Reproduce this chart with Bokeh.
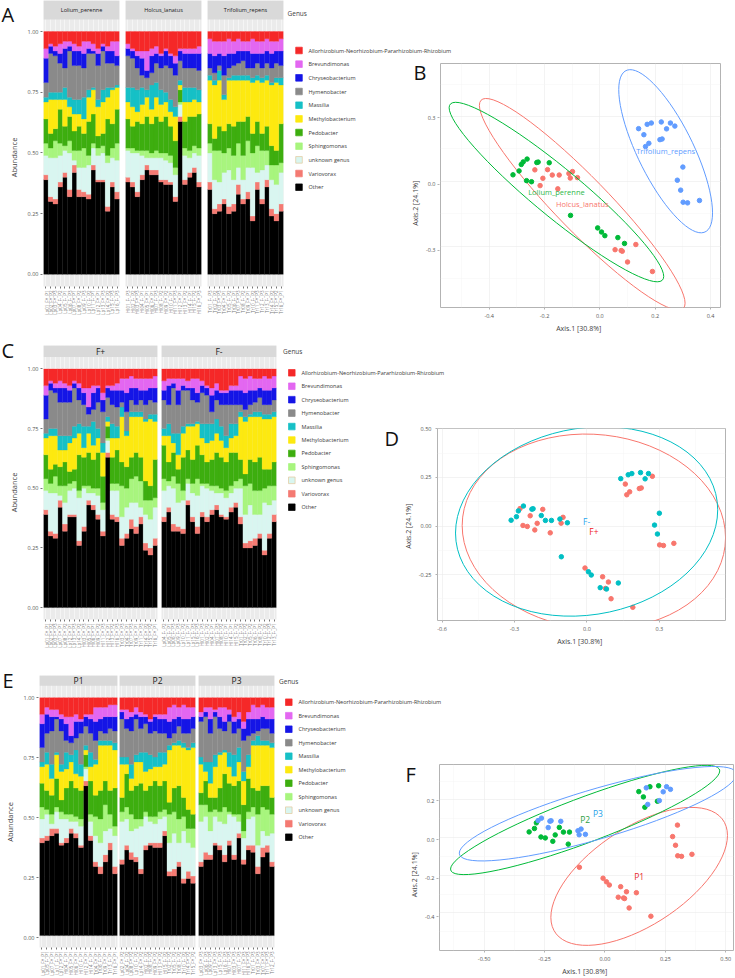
import numpy as np
from bokeh.plotting import figure
from bokeh.layouts import row, column
from bokeh.models import (ColumnDataSource, FactorRange, Range1d, FixedTicker,
                          PrintfTickFormatter, Label, BoxAnnotation, Grid)
from bokeh.core.properties import value
from bokeh.embed import file_html
from bokeh.resources import INLINE

FONT = "Open Sans"
TEXT_DARK = "#444444"
TICK_TEXT = "#555555"
LETTER_PX = "20px"

# ---------------------------------------------------------------- genera
genus_keys = ["allorhizobium", "brevundimonas", "chryseobacterium", "hymenobacter",
              "massilia", "methylobacterium", "pedobacter", "sphingomonas",
              "unknown_genus", "variovorax", "other"]
genus_labels = ["Allorhizobium-Neorhizobium-Pararhizobium-Rhizobium", "Brevundimonas",
                "Chryseobacterium", "Hymenobacter", "Massilia", "Methylobacterium",
                "Pedobacter", "Sphingomonas", "unknown genus", "Variovorax", "Other"]
genus_colors = ["#F52828", "#E367F1", "#1515E6", "#8A8A8A", "#16C0C6", "#FDE910",
                "#3DAE0F", "#A8F57E", "#D9F6F0", "#F47A72", "#000000"]

# ---------------------------------------------------------------- relative abundance
# 48 samples: 16 Lolium_perenne, 16 Holcus_lanatus, 16 Trifolium_repens
allorhizobium = [.07, .05, .06, .05, .04, .04, .05, .06, .04, .04, .05, .07, .05, .06, .04, .04,
                 .05, .07, .08, .08, .08, .07, .06, .09, .07, .09, .10, .07, .07, .07, .07, .06,
                 .03, .04, .04, .04, .03, .04, .03, .04, .04, .03, .04, .04, .03, .04, .04, .03]
brevundimonas = [.04, .01, .02, .04, .03, .02, .03, .02, .05, .03, .03, .02, .01, .02, .04, .06,
                 .02, .01, .02, .03, .08, .03, .03, .01, .01, .01, .03, .01, .02, .02, .02, .03,
                 .06, .06, .05, .06, .06, .05, .05, .04, .04, .06, .05, .05, .05, .05, .04, .05]
chryseobacterium = [.10, .03, .02, .04, .08, .02, .06, .06, .06, .02, .01, .05, .02, .05, .05, .04,
                    .03, .03, .05, .07, .03, .07, .04, .05, .06, .05, .05, .04, .06, .06, .06, .07,
                    .06, .07, .05, .08, .06, .05, .05, .04, .07, .06, .04, .06, .05, .06, .05, .06]
hymenobacter = [.06, .16, .15, .12, .08, .19, .14, .14, .12, .15, .14, .14, .16, .10, .10, .08,
                .13, .12, .09, .05, .05, .05, .08, .09, .11, .13, .13, .08, .08, .08, .08, .08,
                .03, .03, .02, .08, .04, .04, .05, .06, .03, .04, .05, .04, .05, .06, .06, .05]
massilia = [.02, .03, .03, .03, .05, .04, .06, .06, .09, .03, .01, .03, .05, .04, .01, .01,
            .06, .08, .09, .07, .03, .10, .06, .06, .04, .05, .04, .02, .06, .06, .05, .05,
            .02, .02, .04, .02, .01, .02, .02, .02, .02, .02, .02, .02, .02, .01, .02, .03]
methylobacterium = [.07, .14, .12, .04, .11, .04, .07, .05, .06, .10, .10, .12, .13, .09, .14, .09,
                    .07, .08, .04, .08, .08, .06, .08, .07, .06, .06, .10, .02, .08, .06, .07, .05,
                    .18, .22, .19, .13, .18, .19, .17, .17, .15, .21, .17, .21, .19, .25, .28, .16]
pedobacter = [.10, .06, .05, .14, .08, .10, .08, .10, .06, .14, .12, .05, .05, .15, .10, .14,
              .12, .09, .12, .11, .14, .12, .14, .13, .15, .12, .11, .05, .11, .14, .12, .14,
              .08, .05, .10, .09, .10, .12, .09, .14, .10, .08, .10, .07, .10, .08, .06, .16]
sphingomonas = [.05, .04, .07, .05, .02, .05, .04, .07, .08, .04, .02, .03, .03, .03, .04, .07,
                .01, .02, .01, .02, .03, .02, .03, .02, .03, .03, .03, .01, .03, .03, .03, .03,
                .04, .12, .13, .08, .09, .10, .10, .10, .11, .06, .11, .08, .06, .06, .08, .04]
unknown_genus = [.08, .16, .17, .11, .09, .15, .02, .09, .10, .12, .07, .10, .11, .18, .10, .13,
                 .11, .12, .16, .08, .03, .05, .05, .09, .08, .08, .09, .05, .10, .06, .06, .11,
                 .12, .12, .09, .11, .15, .10, .07, .08, .10, .20, .04, .12, .06, .12, .12, .13]
variovorax = [.02, .02, .02, .02, .02, .03, .03, .03, .02, .02, .02, .01, .01, .02, .02, .03,
              .02, .02, .02, .02, .02, .02, .02, .01, .02, .01, .02, .02, .02, .02, .02, .02,
              .03, .02, .03, .02, .03, .03, .04, .02, .03, .02, .03, .02, .03, .03, .03, .03]
other = [.39, .30, .29, .36, .40, .32, .42, .32, .32, .31, .43, .38, .38, .26, .36, .31,
         .38, .36, .32, .39, .43, .41, .41, .38, .37, .37, .30, .63, .37, .40, .42, .36,
         .35, .25, .26, .29, .25, .26, .33, .29, .31, .22, .35, .29, .36, .24, .22, .26]

host_names = ["Lolium_perenne", "Holcus_lanatus", "Trifolium_repens"]
host_codes = ["Lp", "Hl", "Tr"]
fungus = (["F+", "F+", "F+", "F-", "F-", "F-", "F+", "F+", "F-", "F-", "F-", "F+", "F+", "F+", "F-", "F-"] +
          ["F-", "F-", "F+", "F-", "F+", "F+", "F-", "F-", "F+", "F-", "F+", "F+", "F+", "F-", "F-", "F+"] +
          ["F-", "F-", "F+", "F+", "F-", "F-", "F+", "F-", "F+", "F-", "F+", "F-", "F-", "F+", "F+", "F+"])
phosphorus = (["P1", "P2", "P3", "P2", "P1", "P3", "P1", "P2", "P3", "P2", "P1", "P1", "P3", "P2", "P3", "P3"] +
              ["P3", "P2", "P3", "P1", "P1", "P1", "P3", "P2", "P2", "P1", "P3", "P1", "P2", "P1", "P2", "P3"] +
              ["P3", "P2", "P3", "P1", "P2", "P1", "P3", "P2", "P1", "P2", "P3", "P3", "P1", "P2", "P2", "P1"])

# ---------------------------------------------------------------- PCoA scores
pcoa_axis1 = [-0.314, -0.292, -0.284, -0.277, -0.263, -0.265, -0.247, -0.228, -0.223, -0.183,
              -0.106, -0.008, 0.006, 0.018, 0.065, 0.089,
              -0.235, -0.206, -0.216, -0.189, -0.172, -0.152, -0.147, -0.112, -0.107, -0.099,
              -0.081, 0.055, 0.077, 0.081, 0.100, 0.130, 0.190,
              0.140, 0.159, 0.171, 0.186, 0.177, 0.165, 0.222, 0.217, 0.225, 0.241, 0.255,
              0.271, 0.300, 0.280, 0.292, 0.301, 0.317, 0.360]
pcoa_axis2 = [0.030, 0.048, 0.078, 0.090, 0.103, 0.003, -0.002, 0.087, 0.089, 0.086,
              -0.158, -0.216, -0.235, -0.252, -0.261, -0.288,
              0.053, 0.014, -0.020, 0.054, 0.029, -0.035, 0.029, 0.036, 0.015, 0.045,
              0.017, -0.317, -0.321, -0.324, -0.374, -0.293, -0.418,
              0.244, 0.216, 0.264, 0.270, 0.176, 0.161, 0.275, 0.193, 0.196, 0.243, 0.270,
              0.256, 0.066, 0.005, -0.041, -0.097, -0.100, -0.089]
pcoa_host = ["Lolium_perenne"] * 16 + ["Holcus_lanatus"] * 17 + ["Trifolium_repens"] * 18
pcoa_fungus = (["F-", "F-", "F-", "F+", "F-", "F+", "F+", "F-", "F-", "F+", "F-", "F+", "F-", "F-", "F+", "F+"] +
               ["F+", "F+", "F+", "F-", "F-", "F+", "F-", "F-", "F+", "F+", "F-", "F-", "F+", "F-", "F+", "F-", "F+"] +
               ["F-", "F+", "F-", "F-", "F+", "F+", "F-", "F+", "F+", "F-", "F-", "F+", "F-", "F-", "F-", "F+", "F+", "F+"])
pcoa_phos = (["P2", "P2", "P2", "P3", "P3", "P2", "P2", "P3", "P3", "P3", "P1", "P1", "P1", "P1", "P1", "P1"] +
             ["P3", "P2", "P2", "P2", "P2", "P2", "P2", "P3", "P3", "P3", "P3", "P1", "P1", "P1", "P1", "P1", "P1"] +
             ["P2", "P2", "P3", "P2", "P3", "P2", "P2", "P2", "P3", "P3", "P3", "P3", "P1", "P1", "P1", "P1", "P1", "P1"])
axis1_title = "Axis.1   [30.8%]"
axis2_title = "Axis.2   [24.1%]"

# ---------------------------------------------------------------- derived tables
abundance = dict(zip(genus_keys, [allorhizobium, brevundimonas, chryseobacterium, hymenobacter,
                                  massilia, methylobacterium, pedobacter, sphingomonas,
                                  unknown_genus, variovorax, other]))
genus_color = dict(zip(genus_keys, genus_colors))
stack_keys = genus_keys[::-1]                     # Other at the bottom
stack_colors = [genus_color[k] for k in stack_keys]
BAR_TICKS = [0, 0.25, 0.5, 0.75, 1.0]

sample_host, sample_names = [], []
for h, (hn, code) in enumerate(zip(host_names, host_codes)):
    for k in range(16):
        i = h * 16 + k
        sample_host.append(hn)
        sample_names.append(f"{code}{k + 1:02d}_{fungus[i]}_{phosphorus[i]}")


def free_frame(p):
    # keep every plot's frame where its own borders put it
    try:
        p.frame_align = False
    except Exception:
        pass
    return p


def base_fig(width, height, left, right, top, bottom, **kw):
    p = figure(width=width, height=height, toolbar_location=None, output_backend="svg",
               title=None, min_border_left=left, min_border_right=right,
               min_border_top=top, min_border_bottom=bottom, **kw)
    return free_frame(p)


def pixel_fig(width, height):
    p = figure(width=width, height=height, toolbar_location=None, output_backend="svg",
               title=None, x_range=Range1d(0, width), y_range=Range1d(height, 0),
               x_axis_location=None, y_axis_location=None, min_border=0,
               min_border_left=0, min_border_right=0, min_border_top=0, min_border_bottom=0)
    p.outline_line_color = None
    p.background_fill_color = "white"
    p.border_fill_color = "white"
    p.grid.visible = False
    return free_frame(p)


def draw_letter(p, letter, x, y):
    p.text(x=[x], y=[y], text=[letter], text_font=value(FONT), text_font_size=LETTER_PX,
           text_color="#111111", text_baseline="top", text_align="left")


def letter_fig(width, height, letter, x, y):
    p = pixel_fig(width, height)
    draw_letter(p, letter, x, y)
    return p


def set_ygrid(p, ticks, minor=None, color="white", width=0.5, minor_color=None):
    grids = list(p.ygrid)
    if not grids:
        g = Grid(dimension=1)
        p.add_layout(g)
        grids = [g]
    for g in grids:
        g.ticker = FixedTicker(ticks=ticks, minor_ticks=minor or [])
        g.grid_line_color = color
        g.grid_line_width = width
        if minor_color:
            g.minor_grid_line_color = minor_color
            g.minor_grid_line_width = 0.5


def style_y_axis(ay, ticks, fmt, label, tick_color):
    ay.ticker = FixedTicker(ticks=ticks)
    ay.formatter = PrintfTickFormatter(format=fmt)
    ay.axis_label = label
    ay.axis_label_text_font = FONT
    ay.axis_label_text_font_style = "normal"
    ay.axis_label_text_color = TEXT_DARK
    ay.major_label_text_font = FONT
    ay.major_label_text_font_size = "5.5px"
    ay.major_label_text_color = TICK_TEXT
    ay.major_label_standoff = 2
    ay.axis_line_color = None
    ay.major_tick_line_color = tick_color
    ay.major_tick_out = 2
    ay.major_tick_in = 0
    ay.minor_tick_line_color = None


def axis_fig(width, height, bottom, y_range, ticks, fmt, label, label_px, label_standoff,
             tick_color):
    # a one-pixel frame that only carries a shared y axis
    p = base_fig(width, height, width - 1, 0, 0, bottom, x_range=Range1d(0, 1),
                 y_range=Range1d(*y_range), x_axis_location=None, y_axis_location="left")
    p.outline_line_color = None
    p.background_fill_color = "white"
    p.border_fill_color = "white"
    p.grid.visible = False
    ay = p.yaxis[0]
    style_y_axis(ay, ticks, fmt, label, tick_color)
    ay.axis_label_text_font_size = label_px
    ay.axis_label_standoff = label_standoff
    return p


def bar_panel(idx, strip_text, width, height, left, right, top, bottom, y_top, strip_px):
    names = [sample_names[i] for i in idx]
    data = {"sample": names}
    for k in stack_keys:
        data[k] = [abundance[k][i] for i in idx]
    p = base_fig(width, height, left, right, top, bottom,
                 x_range=FactorRange(factors=names), y_range=Range1d(-0.05, y_top),
                 y_axis_location=None)
    p.vbar_stack(stack_keys, x="sample", width=1.0, source=ColumnDataSource(data),
                 fill_color=stack_colors, line_color=stack_colors, line_width=0.3)
    p.background_fill_color = "#EBEBEB"
    p.border_fill_color = "white"
    p.outline_line_color = None
    p.xgrid.grid_line_color = "white"
    p.xgrid.grid_line_width = 0.5
    set_ygrid(p, BAR_TICKS)

    ax = p.xaxis[0]
    ax.major_label_orientation = np.pi / 2
    ax.major_label_text_font_size = "4.5px"
    ax.major_label_text_color = "#7A7A7A"
    ax.major_label_text_font = FONT
    ax.major_label_standoff = 2
    ax.axis_line_color = None
    ax.major_tick_line_color = "#777777"
    ax.major_tick_out = 2
    ax.major_tick_in = 0

    # facet strip
    p.add_layout(BoxAnnotation(bottom=1.05, fill_color="#D9D9D9", fill_alpha=1.0,
                               line_color=None))
    p.add_layout(Label(x=(width - left - right) / 2, x_units="screen",
                       y=(1.05 + y_top) / 2, text=strip_text, text_align="center",
                       text_baseline="middle", text_font=FONT, text_font_size=strip_px,
                       text_color="#1A1A1A"))
    return p


def ellipse(xs, ys, level=0.95, segments=73):
    pts = np.column_stack([xs, ys])
    n = len(pts)
    center = pts.mean(axis=0)
    shape = np.cov(pts, rowvar=False)
    d2 = n - 1
    fq = d2 / 2.0 * ((1.0 - level) ** (-2.0 / d2) - 1.0)      # F(2, n-1) quantile
    radius = np.sqrt(2.0 * fq)
    t = np.linspace(0, 2 * np.pi, segments)
    circle = np.column_stack([np.cos(t), np.sin(t)])
    chol = np.linalg.cholesky(shape)
    e = center + radius * circle @ chol.T
    return e[:, 0], e[:, 1]


def with_minor(ticks):
    step = ticks[1] - ticks[0]
    mids = [(a + b) / 2 for a, b in zip(ticks[:-1], ticks[1:])]
    return [ticks[0] - step / 2] + mids + [ticks[-1] + step / 2]


def style_pcoa_axis(axis, ticks, fmt):
    axis.ticker = FixedTicker(ticks=ticks, minor_ticks=with_minor(ticks))
    axis.formatter = PrintfTickFormatter(format=fmt)
    axis.major_label_text_font = FONT
    axis.major_label_text_font_size = "5.5px"
    axis.major_label_text_color = TICK_TEXT
    axis.major_label_standoff = 2
    axis.axis_line_color = None
    axis.major_tick_line_color = "#B3B3B3"
    axis.major_tick_out = 2
    axis.major_tick_in = 0
    axis.minor_tick_line_color = None
    axis.axis_label_text_font = FONT
    axis.axis_label_text_font_size = "7px"
    axis.axis_label_text_font_style = "normal"
    axis.axis_label_text_color = TEXT_DARK
    axis.axis_label_standoff = 3


def pcoa_panel(groups, order, point_colors, text_colors, width, height, left, right,
               top, bottom, xr, yr, xticks, yticks, xfmt, yfmt, text_px, own_y_axis):
    p = base_fig(width, height, left, right, top, bottom,
                 x_range=Range1d(*xr), y_range=Range1d(*yr),
                 y_axis_location="left" if own_y_axis else None)
    p.background_fill_color = "white"
    p.border_fill_color = "white"
    p.outline_line_color = "#B3B3B3"
    p.outline_line_width = 1

    style_pcoa_axis(p.xaxis[0], xticks, xfmt)
    p.xaxis[0].axis_label = axis1_title
    if own_y_axis:
        style_pcoa_axis(p.yaxis[0], yticks, yfmt)
        p.yaxis[0].axis_label = axis2_title
    p.xgrid.grid_line_color = "#EBEBEB"
    p.xgrid.grid_line_width = 0.6
    p.xgrid.minor_grid_line_color = "#F5F5F5"
    p.xgrid.minor_grid_line_width = 0.5
    set_ygrid(p, yticks, with_minor(yticks), color="#EBEBEB", width=0.6,
              minor_color="#F5F5F5")

    x = np.array(pcoa_axis1)
    y = np.array(pcoa_axis2)
    g = np.array(groups)
    for name, pc in zip(order, point_colors):
        m = g == name
        p.scatter(x[m], y[m], size=4.5, fill_color=pc, line_color=pc)
        ex, ey = ellipse(x[m], y[m])
        p.line(ex, ey, line_color=pc, line_width=1)
    for name, tc in zip(order, text_colors):
        m = g == name
        p.text(x=[x[m].mean()], y=[y[m].mean()], text=[name], text_color=tc,
               text_align="center", text_baseline="middle", text_font=value(FONT),
               text_font_size=text_px)
    return p


def legend_panel(width, height, ox, oy, title_xy, key_x, text_x, y0, dy):
    p = pixel_fig(width, height)
    tx, ty = title_xy
    if oy <= ty < oy + height:
        p.text(x=[tx - ox], y=[ty - oy], text=["Genus"], text_font=value(FONT),
               text_font_size="6.5px", text_color=TEXT_DARK, text_baseline="middle")
    rows = [i for i in range(len(genus_labels)) if oy <= y0 + i * dy < oy + height]
    if rows:
        ys = [y0 + i * dy - oy for i in rows]
        edge = ["#E2C89C" if genus_keys[i] == "unknown_genus" else genus_colors[i] for i in rows]
        p.rect(x=[key_x - ox] * len(rows), y=ys, width=6.6, height=6.6,
               fill_color=[genus_colors[i] for i in rows], line_color=edge, line_width=0.7)
        p.text(x=[text_x - ox] * len(rows), y=ys, text=[genus_labels[i] for i in rows],
               text_font=value(FONT), text_font_size="5.5px", text_color="#3A3A3A",
               text_baseline="middle", text_align="left")
    return p


host_idx = [[i for i in range(48) if sample_host[i] == h] for h in host_names]
fungus_groups = ["F+", "F-"]
phos_groups = ["P1", "P2", "P3"]
fungus_idx = [[i for i in range(48) if fungus[i] == f] for f in fungus_groups]
phos_idx = [[i for i in range(48) if phosphorus[i] == q] for q in phos_groups]

# ---------------------------------------------------------------- row 1: host plant
col_a = column(letter_fig(43, 28, "A", 1, 0),
               axis_fig(43, 307, 49, (-0.05, 1.0127), BAR_TICKS, "%.2f", "Abundance",
                        "7.5px", 6, "#777777"))
a1 = bar_panel(host_idx[0], host_names[0], 79, 335, 0, 3, 0, 49, 1.128, "5.5px")
a2 = bar_panel(host_idx[1], host_names[1], 82, 335, 3, 3, 0, 49, 1.128, "5.5px")
a3 = bar_panel(host_idx[2], host_names[2], 81, 335, 3, 2, 0, 49, 1.128, "5.5px")
leg1_top = legend_panel(450, 57, 285, 0, (287, 13), 298.5, 308, 50, 13.67)
leg1_bot = legend_panel(115, 278, 285, 57, (287, 13), 298.5, 308, 50, 13.67)
col_b = column(letter_fig(40, 32, "B", 13, 1),
               axis_fig(40, 246, 22, (-0.585, 0.427), [-0.3, 0.0, 0.3], "%.1f", axis2_title,
                        "7px", 3, "#B3B3B3"))
fig_b = pcoa_panel(pcoa_host, ["Holcus_lanatus", "Lolium_perenne", "Trifolium_repens"],
                   ["#F8766D", "#00BA38", "#619CFF"], ["#F8766D", "#2DB84A", "#619CFF"],
                   295, 278, 0, 15, 6, 22, (-0.576, 0.436), (-0.585, 0.546),
                   [-0.4, -0.2, 0.0, 0.2, 0.4], [-0.3, 0.0, 0.3], "%.1f", "%.1f", "7.5px",
                   False)

# ---------------------------------------------------------------- row 2: fungal endophyte
col_c = column(letter_fig(43, 30, "C", 1, 1),
               axis_fig(43, 290, 36, (-0.05, 1.0142), BAR_TICKS, "%.2f", "Abundance",
                        "7.5px", 6, "#777777"))
c1 = bar_panel(fungus_idx[0], "F+", 116, 320, 0, 2, 10, 36, 1.098, "8.5px")
c2 = bar_panel(fungus_idx[1], "F-", 119, 320, 2, 2, 10, 36, 1.098, "8.5px")
leg2_top = legend_panel(457, 45, 278, 335, (282.5, 350.5), 291.3, 301, 372.3, 13.44)
leg2_bot = legend_panel(122, 275, 278, 380, (282.5, 350.5), 291.3, 301, 372.3, 13.44)
draw_letter(leg2_bot, "D", 384 - 278, 424 - 380)
fig_d = pcoa_panel(pcoa_fungus, fungus_groups, ["#F8766D", "#00BFC4"], ["#F0201C", "#2AA6EE"],
                   335, 275, 33, 10, 48, 35, (-0.619, 0.574), (-0.486, 0.502),
                   [-0.6, -0.3, 0.0, 0.3], [-0.25, 0.0, 0.25, 0.5], "%.1f", "%.2f", "8.5px",
                   True)

# ---------------------------------------------------------------- row 3: phosphorus
col_e = column(letter_fig(39, 39, "E", 2, 11),
               axis_fig(39, 284, 29, (-0.05, 1.0137), BAR_TICKS, "%.2f", "Abundance",
                        "7.5px", 6, "#777777"))
e1 = bar_panel(phos_idx[0], "P1", 79, 323, 0, 1, 20, 29, 1.093, "8.5px")
e2 = bar_panel(phos_idx[1], "P2", 78, 323, 1, 1, 20, 29, 1.093, "8.5px")
e3 = bar_panel(phos_idx[2], "P3", 79, 323, 2, 1, 20, 29, 1.093, "8.5px")
leg3_top = legend_panel(460, 55, 275, 655, (278.5, 680.5), 288.3, 298, 701.7, 13.5)
leg3_bot = legend_panel(125, 268, 275, 710, (278.5, 680.5), 288.3, 298, 701.7, 13.5)
col_f = column(letter_fig(39, 80, "F", 5, 50),
               axis_fig(39, 188, 23, (-0.60, 0.2535), [-0.4, -0.2, 0.0, 0.2], "%.1f",
                        axis2_title, "7px", 3, "#B3B3B3"))
fig_f = pcoa_panel(pcoa_phos, phos_groups, ["#F8766D", "#00BA38", "#619CFF"],
                   ["#E8282B", "#2EA043", "#1E9FE8"],
                   296, 268, 0, 2, 54, 23, (-0.685, 0.532), (-0.60, 0.388),
                   [-0.5, -0.25, 0.0, 0.25, 0.5], [-0.4, -0.2, 0.0, 0.2], "%.2f", "%.1f",
                   "8.5px", False)

page = column(
    row(col_a, a1, a2, a3, column(leg1_top, row(leg1_bot, col_b, fig_b))),
    row(col_c, c1, c2, column(leg2_top, row(leg2_bot, fig_d))),
    row(col_e, e1, e2, e3, column(leg3_top, row(leg3_bot, col_f, fig_f))),
)

with open("out.html", "w") as fh:
    fh.write(file_html(page, INLINE, title="Bacterial genera and PCoA"))
